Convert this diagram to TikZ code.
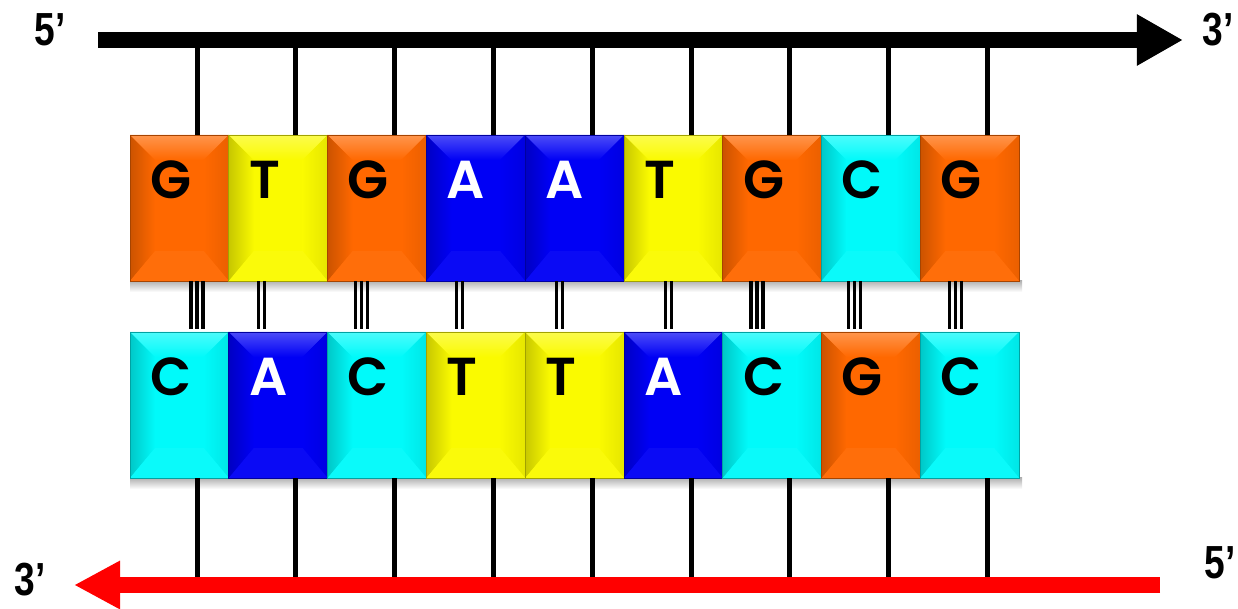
\documentclass[tikz,border=0pt]{standalone}
\usepackage{fontspec}
\usepackage{xcolor}
\usetikzlibrary{calc,arrows.meta}

\newfontfamily\basefont{Poppins}[UprightFont=* SemiBold, BoldFont=* SemiBold]
\newfontfamily\endfont{Liberation Sans}[FakeStretch=0.8]

\definecolor{colG}{RGB}{255,104,0}
\definecolor{colT}{RGB}{250,250,0}
\definecolor{colA}{RGB}{0,0,245}
\definecolor{colC}{RGB}{0,250,250}
\colorlet{txtG}{black}
\colorlet{txtT}{black}
\colorlet{txtC}{black}
\colorlet{txtA}{white}
\definecolor{strandred}{RGB}{255,0,0}

% one bevelled base: name, x, y (top left), letter
\newcommand{\nucleo}[4]{%
  \node[nuc, fill=col#4] (#1) at (#2,#3) {};
  \shade[left color=col#4!80!black, right color=col#4]
    (#1.north west) -- ($(#1.north west)+(25,-25)$) -- ($(#1.south west)+(25,30)$) -- (#1.south west) -- cycle;
  \shade[top color=col#4!70!white, bottom color=col#4]
    (#1.north west) -- (#1.north east) -- ($(#1.north east)+(-25,-25)$) -- ($(#1.north west)+(25,-25)$) -- cycle;
  \shade[left color=col#4, right color=col#4!92!black]
    (#1.north east) -- (#1.south east) -- ($(#1.south east)+(-25,30)$) -- ($(#1.north east)+(-25,-25)$) -- cycle;
  \fill[col#4!96!white]
    (#1.south west) -- (#1.south east) -- ($(#1.south east)+(-25,30)$) -- ($(#1.south west)+(25,30)$) -- cycle;
  \draw[col#4!65!black, line width=0.02cm] (#1.north west) rectangle (#1.south east);
  \node[base, text=txt#4] (l#1) at ($(#1.north west)+(20,-45)$) {#4};
}

\begin{document}
\begin{tikzpicture}[x=0.025cm, y=0.025cm,
    nuc/.style={rectangle, anchor=north west, inner sep=0, outer sep=0,
                minimum width=2.47cm, minimum height=3.65cm},
    base/.style={anchor=west, inner sep=0, font=\basefont\fontsize{38}{40}\selectfont},
    endlbl/.style={inner sep=0, font=\endfont\bfseries\fontsize{33}{36}\selectfont},
    stub/.style={line width=0.125cm},
    strand/.style={line width=0.4cm},
    hbond/.style={line width=0.09cm}]
\useasboundingbox (0,0) rectangle (1238,-609);

% strand ends
\coordinate (t5) at (98,-40);
\coordinate (t3) at (1183,-40);
\coordinate (b5) at (1160,-585);
\coordinate (b3) at (74,-585);

% soft shadows under the rows
\shade[top color=black!30, bottom color=white] (130,-281) rectangle (1022,-292);
\shade[top color=black!30, bottom color=white] (130,-478) rectangle (1022,-489);

% the two rows of bases
\foreach \b [count=\i, evaluate=\i as \x using 130+98.8*(\i-1)] in {G,T,G,A,A,T,G,C,G}
    \nucleo{T\i}{\x}{-135}{\b};
\foreach \b [count=\i, evaluate=\i as \x using 130+98.8*(\i-1)] in {C,A,C,T,T,A,C,G,C}
    \nucleo{B\i}{\x}{-332}{\b};

% backbone stubs
\foreach \i in {1,...,9} {
    \coordinate (u\i) at ($(T\i.north west)+(67,0)$);
    \coordinate (v\i) at ($(B\i.south west)+(67,0)$);
    \draw[stub] (u\i) -- (u\i |- t5);
    \draw[stub] (v\i) -- (v\i |- b5);
}

% hydrogen bonds
\foreach \i/\dx in {1/67, 3/34, 7/34, 8/33, 9/35}
    \foreach \o in {-6,0,6}
        \draw[hbond] ($(T\i.south west)+(\dx+\o,0)$) -- ($(B\i.north west)+(\dx+\o,3)$);
\foreach \i/\dx in {2/33, 4/33, 5/34, 6/44}
    \foreach \o in {-3,3}
        \draw[hbond, line width=0.075cm] ($(T\i.south west)+(\dx+\o,0)$) -- ($(B\i.north west)+(\dx+\o,3)$);

% strands
\draw[strand, -{Triangle[length=1.15cm, width=1.2cm]}] (t5) -- (t3);
\draw[strand, strandred, -{Triangle[length=1.15cm, width=1.13cm]}] (b5) -- (b3);

\node[endlbl] (lt5) at (50,-30) {5’};
\node[endlbl] (lt3) at (1218,-30) {3’};
\node[endlbl] (lb3) at (30,-580) {3’};
\node[endlbl] (lb5) at (1220,-563) {5’};
\end{tikzpicture}
\end{document}
